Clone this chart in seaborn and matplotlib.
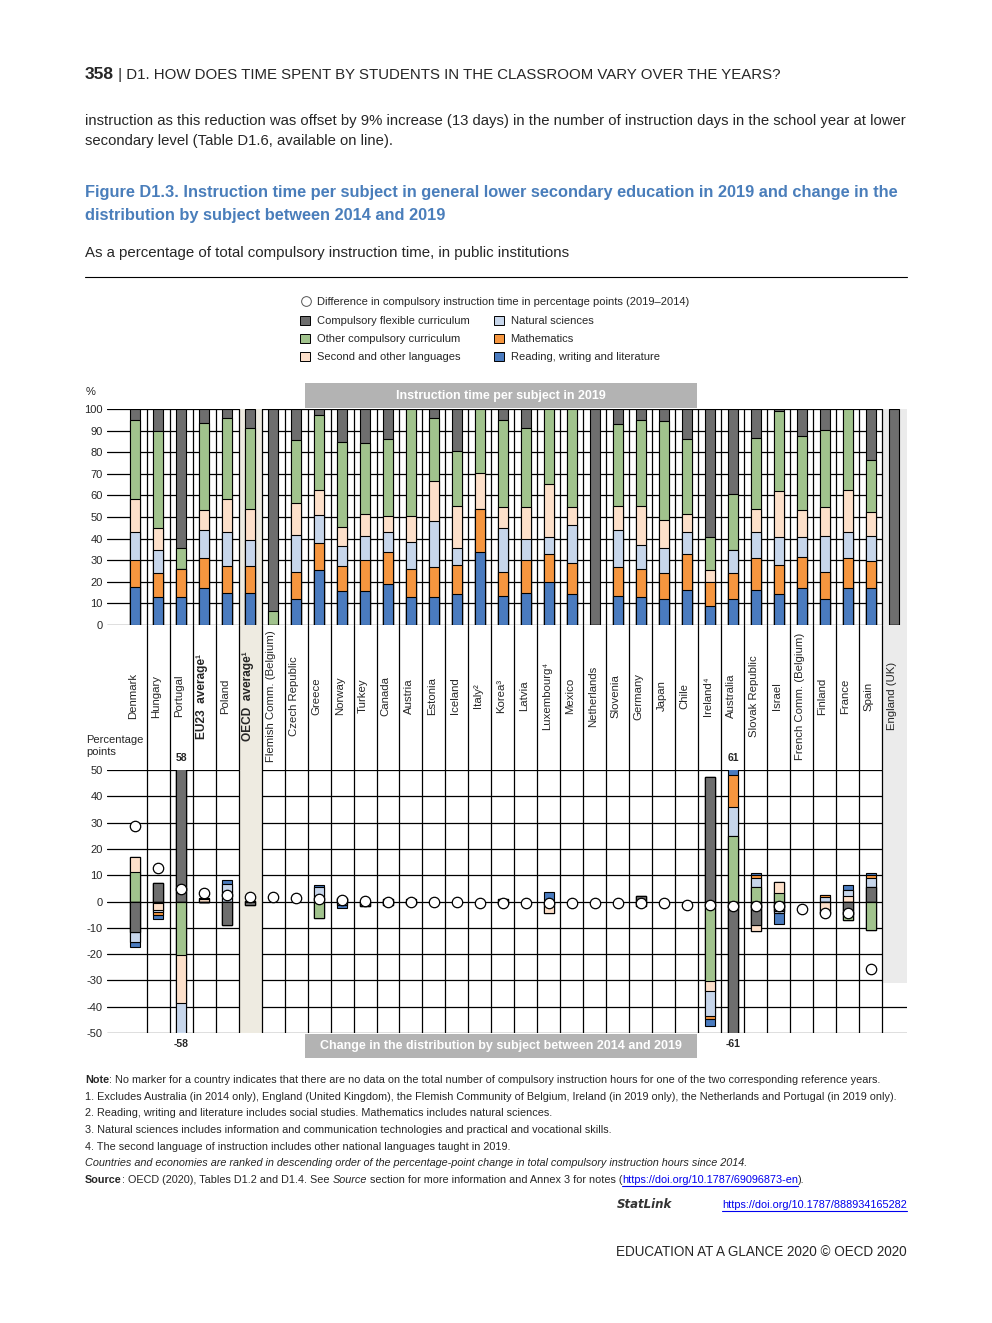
import numpy as np
import pandas as pd
import matplotlib.pyplot as plt
import seaborn as sns
from matplotlib.patches import Rectangle, Patch
from matplotlib.lines import Line2D

# ---- data -------------------------------------------------------------
countries = ['Denmark', 'Hungary', 'Portugal', 'EU23 average', 'Poland', 'OECD average',
             'Flemish Comm. (Belgium)', 'Czech Republic', 'Greece', 'Norway', 'Turkey',
             'Canada', 'Austria', 'Estonia', 'Iceland', 'Italy', 'Korea', 'Latvia',
             'Luxembourg', 'Mexico', 'Netherlands', 'Slovenia', 'Germany', 'Japan', 'Chile',
             'Ireland', 'Australia', 'Slovak Republic', 'Israel', 'French Comm. (Belgium)',
             'Finland', 'France', 'Spain', 'England (UK)']
tick_labels = ['Denmark', 'Hungary', 'Portugal', 'EU23  average¹', 'Poland', 'OECD  average¹',
               'Flemish Comm. (Belgium)', 'Czech Republic', 'Greece', 'Norway', 'Turkey',
               'Canada', 'Austria', 'Estonia', 'Iceland', 'Italy²', 'Korea³', 'Latvia',
               'Luxembourg⁴', 'Mexico', 'Netherlands', 'Slovenia', 'Germany', 'Japan', 'Chile',
               'Ireland⁴', 'Australia', 'Slovak Republic', 'Israel', 'French Comm. (Belgium)',
               'Finland', 'France', 'Spain', 'England (UK)']

# instruction time per subject in 2019 (% of total)
read_19 = [17.5, 12.8, 12.8, 17.0, 14.7, 14.7, 0, 11.9, 25.3, 15.6, 15.6, 18.9, 12.8, 12.8, 14.2, 33.7, 13.3,
           14.7, 19.8, 14.2, 0, 13.3, 12.8, 11.9, 16.1, 8.7, 11.9, 16.1, 14.2, 17.0, 11.9, 17.0, 17.0, 0]
math_19 = [12.5, 11.2, 13.0, 13.9, 12.5, 12.5, 0, 12.5, 12.6, 11.6, 14.4, 14.8, 13.0, 13.9, 13.5, 19.9, 11.1,
           15.3, 13.0, 14.4, 0, 13.4, 13.0, 12.1, 16.7, 11.1, 12.1, 14.8, 13.5, 14.4, 12.5, 13.9, 12.5, 0]
sci_19 = [13.0, 10.6, 0, 13.0, 15.8, 12.1, 0, 17.2, 13.0, 9.3, 11.1, 9.3, 12.5, 21.4, 7.8, 0, 20.4,
          9.7, 7.8, 17.6, 0, 17.2, 11.1, 11.5, 10.2, 0, 10.6, 12.1, 12.9, 9.2, 16.7, 12.1, 11.6, 0]
lang_19 = [15.3, 10.2, 0, 9.3, 15.3, 14.3, 0, 14.8, 11.5, 8.8, 10.2, 7.4, 12.1, 18.5, 19.5, 16.7, 9.8,
           14.9, 24.6, 8.4, 0, 11.1, 18.1, 13.0, 8.3, 5.5, 0, 10.6, 21.4, 12.6, 13.5, 19.4, 11.1, 0]
other_19 = [36.7, 44.8, 9.7, 40.3, 37.5, 37.6, 6.5, 29.2, 34.8, 39.4, 32.9, 35.7, 49.6, 29.2, 25.5, 29.7, 40.4,
            36.6, 34.8, 45.4, 0, 38.0, 40.0, 45.9, 34.8, 15.3, 26.0, 33.0, 37.0, 34.3, 35.7, 37.6, 24.1, 0]
flex_19 = [5.0, 10.4, 64.5, 6.5, 4.2, 8.8, 93.5, 14.4, 2.8, 15.3, 15.8, 13.9, 0, 4.2, 19.5, 0, 5.0,
           8.8, 0, 0, 100, 7.0, 5.0, 5.6, 13.9, 59.4, 39.4, 13.4, 1.0, 12.5, 9.7, 0, 23.7, 100]

# change in distribution 2014-2019 (percentage points)
nan = np.nan
chg_flex = [-11.6, 7.0, 58.0, -0.3, -8.9, -1.3, nan, nan, 0, 0, -1.8, -1.5, -1.0, nan, nan, nan, -0.8, nan,
            0, nan, nan, nan, 2.0, nan, nan, 47.2, -61.0, -8.9, -3.5, nan, 0, -5.0, 5.7, nan]
chg_other = [11.4, -0.7, -20.5, 0, 0, 0.3, nan, nan, -6.3, 1.5, 0, 1.0, 0, nan, nan, nan, 0.8, nan,
             0, nan, nan, nan, -1.6, nan, nan, -30.4, 24.9, 5.7, 3.2, nan, 0, -2.0, -10.8, nan]
chg_lang = [5.7, -2.7, -18.1, 0.8, 0, 0, nan, nan, 0, 0, 0, 0, 0, nan, nan, nan, 0, nan,
            -4.4, nan, nan, nan, 0, nan, nan, -3.5, 0, -2.2, 4.4, nan, -4.4, 2.2, 0, nan]
chg_sci = [-3.7, -0.5, -19.4, 0, 6.8, 0, nan, nan, 5.6, -1.3, 0, 0, 1.0, nan, nan, nan, 0, nan,
           0, nan, nan, nan, 0, nan, nan, -9.5, 11.1, 3.2, -1.0, nan, 1.6, 2.2, 3.4, nan]
chg_math = [0, -1.2, 0, 0.5, 0, 0, nan, nan, 0, 0, 0, 0, 0, nan, nan, nan, 0, nan,
            0, nan, nan, nan, 0, nan, nan, -1.3, 12.1, 1.2, 0, nan, 0.9, 0, 0.8, nan]
chg_read = [-1.9, -1.6, 0, 0, 1.2, 0, nan, nan, 0.5, -1.2, 0, 0, 0, nan, nan, nan, 0, nan,
            3.8, nan, nan, nan, 0, nan, nan, -2.8, 12.9, 0.7, -4.1, nan, 0, 1.9, 0.9, nan]

# difference in compulsory instruction time (circles)
diff_total = [28.7, 12.7, 4.7, 3.2, 2.4, 1.9, 1.9, 1.5, 0.8, 0.7, 0.1, 0.0, -0.1, -0.3, -0.3, -0.4, -0.4,
              -0.4, -0.4, -0.4, -0.5, -0.5, -0.5, -0.5, -1.3, -1.5, -1.6, -1.6, -1.9, -2.9, -4.3, -4.4,
              -25.7, nan]

subjects = ['Reading, writing and literature', 'Mathematics', 'Natural sciences',
            'Second and other languages', 'Other compulsory curriculum', 'Compulsory flexible curriculum']
colors = ['#4A7BBF', '#F6963F', '#C7D6EB', '#FDE0CA', '#A1C38D', '#6E6E6E']

# ---- figure -----------------------------------------------------------
sns.set_theme(style='white')
plt.rcParams['font.family'] = ['Liberation Sans', 'DejaVu Sans']
plt.rcParams['axes.unicode_minus'] = False

W, H = 992, 1323
fig = plt.figure(figsize=(W / 100, H / 100), dpi=100)
fig.patch.set_facecolor('white')


def fx(px):
    return px / W


def fy(py):
    return 1 - py / H


def axes_px(x0, y0, x1, y1):
    return fig.add_axes([fx(x0), fy(y1), (x1 - x0) / W, (y1 - y0) / H])


ax_top = axes_px(107, 409, 907, 625)
ax_mid = axes_px(107, 625, 907, 770)
ax_bot = axes_px(107, 770, 907, 1033)
XMIN, XMAX = -1.22, 33.57
bounds = np.arange(0.5, 33, 1.0)
LINE = dict(color='black', lw=0.9)


def frame(ax, yticks, grey_from=None):
    for b in bounds:
        ax.axvline(b, zorder=0.9, **LINE)
    for y in yticks:
        ax.axhline(y, zorder=0.5, **LINE)
    ax.axvspan(4.5, 5.5, color='#EEEBE1', lw=0, zorder=0.7)
    ax.axvspan(32.5, XMAX, ymin=grey_from or 0, color='#EBEBEB', lw=0, zorder=0.7)
    ax.set_xlim(XMIN, XMAX)
    sns.despine(ax=ax, left=True, bottom=True)
    ax.set_xticks([])
    ax.set_xlabel('')
    ax.set_ylabel('')
    ax.tick_params(axis='y', length=0, pad=3, labelsize=8)


# top panel: stacked shares 2019
shares = pd.DataFrame(dict(zip(subjects, [read_19, math_19, sci_19, lang_19, other_19, flex_19])),
                      index=countries)
cum = shares.cumsum(axis=1)
for subj, col in reversed(list(zip(subjects, colors))):
    sns.barplot(x=cum.index, y=cum[subj].values, order=countries, color=col, saturation=1,
                width=0.42, edgecolor='black', linewidth=0.8, errorbar=None, ax=ax_top)
ax_top.set_ylim(0, 100)
ax_top.set_yticks(range(0, 101, 10))
frame(ax_top, range(0, 101, 10))

# bottom panel: change 2014-2019, positive and negative stacks built outwards
chg = pd.DataFrame(dict(zip(subjects, [chg_read, chg_math, chg_sci, chg_lang, chg_other, chg_flex])),
                   index=countries)
outward = subjects[::-1]  # flexible curriculum sits next to zero
chg = chg[outward].dropna()
pos = chg.clip(lower=0).cumsum(axis=1)
neg = chg.clip(upper=0).cumsum(axis=1)
for part in (pos, neg):
    for subj in reversed(outward):
        sns.barplot(x=part.index, y=part[subj].values, order=countries,
                    color=colors[subjects.index(subj)], saturation=1, width=0.42,
                    edgecolor='black', linewidth=0.8, errorbar=None, ax=ax_bot)
sns.stripplot(x=countries, y=diff_total, order=countries, jitter=False, color='white',
              edgecolor='black', linewidth=0.9, size=7.5, ax=ax_bot, zorder=5)
ax_bot.set_ylim(-50, 50)
ax_bot.set_yticks(range(-50, 51, 10))
frame(ax_bot, range(-50, 51, 10), grey_from=0.19)

# values beyond the axis range
tot_pos = pos.iloc[:, -1]
tot_neg = neg.iloc[:, -1]
for c in chg.index:
    i = countries.index(c)
    if tot_pos[c] > 50:
        ax_bot.text(i, 54.5, f'{tot_pos[c]:.0f}', ha='center', va='center', fontsize=7.5,
                    fontweight='bold', clip_on=False)
    if tot_neg[c] < -50:
        ax_bot.text(i, -54, f'{tot_neg[c]:.0f}', ha='center', va='center', fontsize=7.5,
                    fontweight='bold', clip_on=False)

# middle band with country names
ax_mid.set_ylim(0, 1)
frame(ax_mid, [])
ax_mid.set_yticks([])
for i, lab in enumerate(tick_labels):
    bold = 'average' in lab
    ax_mid.text(i - 0.1, 0.51, lab, rotation=90, ha='center', va='center',
                fontsize=8.6 if bold else 8.2, fontweight='bold' if bold else 'normal')

# ---- texts ------------------------------------------------------------
renderer = fig.canvas.get_renderer()


def width_px(t):
    return t.get_window_extent(renderer).width


def fit(t, target):
    t.set_fontsize(t.get_fontsize() * target / width_px(t))
    return t.get_fontsize()


def rich(x, y, parts, size, **common):
    """Write text pieces one after another on a baseline (pixel coords)."""
    x = fx(x)
    out = []
    for txt, kw in parts:
        opts = dict(fontsize=size, va='baseline', ha='left')
        opts.update(common)
        opts.update(kw)
        t = fig.text(x, fy(y), txt, **opts)
        x += width_px(t) / W
        out.append(t)
    return out


def underline(t, color):
    bb = t.get_window_extent(renderer)
    fig.add_artist(Line2D([bb.x0 / W, bb.x1 / W], [bb.y0 / H - 0.0006] * 2, color=color, lw=0.8))


# page header and body text
probe = fig.text(0, 0, ' | D1. HOW DOES TIME SPENT BY STUDENTS IN THE CLASSROOM VARY OVER THE YEARS?',
                 fontsize=9.5)
hs = fit(probe, 670)
probe.remove()
rich(85, 79, [('358', dict(fontweight='bold', fontsize=12.5)),
              (' | D1. HOW DOES TIME SPENT BY STUDENTS IN THE CLASSROOM VARY OVER THE YEARS?', {})], hs)
b1 = fig.text(fx(85), fy(125), 'instruction as this reduction was offset by 9% increase (13 days) in the '
              'number of instruction days in the school year at lower', fontsize=9.3, va='baseline')
bs = fit(b1, 822)
fig.text(fx(85), fy(145), 'secondary level (Table D1.6, available on line).', fontsize=bs, va='baseline')

blue = '#4A7EBB'
t1 = fig.text(fx(85), fy(197), 'Figure D1.3. Instruction time per subject in general lower secondary '
              'education in 2019 and change in the', fontsize=13, fontweight='bold', color=blue,
              va='baseline')
ts = fit(t1, 815)
fig.text(fx(85), fy(220), 'distribution by subject between 2014 and 2019', fontsize=ts,
         fontweight='bold', color=blue, va='baseline')
st = fig.text(fx(85), fy(257), 'As a percentage of total compulsory instruction time, in public '
              'institutions', fontsize=11, va='baseline')
fit(st, 483)
fig.add_artist(Line2D([fx(85), fx(907)], [fy(277)] * 2, color='black', lw=0.8))

# legend
circle = Line2D([], [], marker='o', linestyle='none', markerfacecolor='white',
                markeredgecolor='#555555', markeredgewidth=0.7, markersize=7)
fig.legend([circle], ['Difference in compulsory instruction time in percentage points (2019\u20132014)'],
           loc='upper left', bbox_to_anchor=(fx(300), fy(297)), frameon=False, fontsize=8.0,
           handlelength=1.0, handletextpad=0.5, borderpad=0, borderaxespad=0)
leg_order = [5, 4, 3, 2, 1, 0]
handles = [Patch(facecolor=colors[k], edgecolor='black', lw=0.7) for k in leg_order]
fig.legend(handles, [subjects[k] for k in leg_order], ncol=2, loc='upper left',
           bbox_to_anchor=(fx(300), fy(316)), frameon=False, fontsize=8.0, handlelength=0.9,
           handleheight=0.9, handletextpad=0.6, labelspacing=0.68, columnspacing=2.2,
           borderpad=0, borderaxespad=0)

# banners
for (y0, y1, txt) in [(383, 408, 'Instruction time per subject in 2019'),
                      (1034, 1058, 'Change in the distribution by subject between 2014 and 2019')]:
    fig.add_artist(Rectangle((fx(305), fy(y1)), (697 - 305) / W, (y1 - y0) / H,
                             transform=fig.transFigure, color='#B3B3B3', lw=0))
    fig.text(fx(501), fy((y0 + y1) / 2), txt, ha='center', va='center', color='white',
             fontsize=9, fontweight='bold')

fig.text(fx(86), fy(395), '%', fontsize=8, va='baseline')
fig.text(fx(86), fy(755), 'Percentage\npoints', fontsize=8, va='baseline', linespacing=1.2)

# notes
n1 = fig.text(fx(85), fy(1100), '1. Excludes Australia (in 2014 only), England (United Kingdom), the Flemish '
              'Community of Belgium, Ireland (in 2019 only), the Netherlands and Portugal (in 2019 only).',
              fontsize=8.2, va='baseline')
NS = fit(n1, 810)
rich(85, 1083, [('Note', dict(fontweight='bold')),
                (': No marker for a country indicates that there are no data on the total number of '
                 'compulsory instruction hours for one of the two corresponding reference years.', {})], NS)
notes = ['2. Reading, writing and literature includes social studies. Mathematics includes natural sciences.',
         '3. Natural sciences includes information and communication technologies and practical and '
         'vocational skills.',
         '4. The second language of instruction includes other national languages taught in 2019.']
for k, s in enumerate(notes):
    fig.text(fx(85), fy(1116.5 + 16.6 * k), s, fontsize=NS, va='baseline')
fig.text(fx(85), fy(1166), 'Countries and economies are ranked in descending order of the percentage-point '
         'change in total compulsory instruction hours since 2014.', fontsize=NS, va='baseline',
         style='italic')
src = rich(85, 1183, [('Source', dict(fontweight='bold')),
                      (': OECD (2020), Tables D1.2 and D1.4. See ', {}),
                      ('Source', dict(style='italic')),
                      (' section for more information and Annex 3 for notes (', {}),
                      ('https://doi.org/10.1787/69096873-en', dict(color='#0000EE')),
                      (').', {})], NS)
underline(src[4], '#0000EE')

link = fig.text(fx(907), fy(1208), 'https://doi.org/10.1787/888934165282', fontsize=NS, color='#0000EE',
                ha='right', va='baseline')
underline(link, '#0000EE')
fig.text(fx(617), fy(1208), 'StatLink', fontsize=8.5, fontweight='bold', style='italic', va='baseline',
         family=['DejaVu Sans'], color='#333333')
ft = fig.text(fx(907), fy(1256), 'EDUCATION AT A GLANCE 2020 \u00a9 OECD 2020', fontsize=9.5, ha='right',
              va='baseline')
fit(ft, 293)

fig.savefig('out.png', dpi=100, facecolor='white')
